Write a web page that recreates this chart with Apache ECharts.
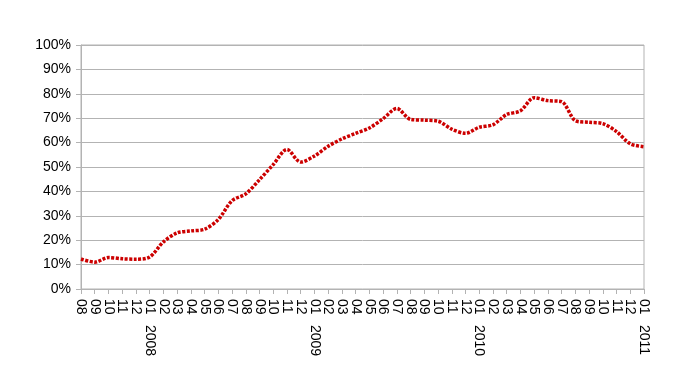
<!DOCTYPE html>
<html lang="en">
<head>
	<meta charset="UTF-8">
	<title>Monthly share</title>
	<script src="https://cdn.jsdelivr.net/npm/echarts@6/dist/echarts.min.js"></script>
	<style>
		html, body { margin: 0; padding: 0; background: #fff; }
	</style>
</head>
<body>
	<div id="main" style="width: 681px; height: 384px;"></div>
	<script>
		// month labels from 2007-08 to 2011-01
		const months = [
			'08', '09', '10', '11', '12',
			'01', '02', '03', '04', '05', '06', '07', '08', '09', '10', '11', '12',
			'01', '02', '03', '04', '05', '06', '07', '08', '09', '10', '11', '12',
			'01', '02', '03', '04', '05', '06', '07', '08', '09', '10', '11', '12',
			'01'
		]
		// shown under every '01'
		const years = ['2008', '2009', '2010', '2011']

		const values = [
			12.3, 11.0, 12.9, 12.4, 12.2,
			13.1, 19.3, 23.0, 23.8, 24.5, 28.5, 36.2, 39.0, 44.8, 51.0, 57.2, 52.0,
			54.5, 58.5, 61.5, 63.8, 66.0, 69.8, 74.0, 69.5, 69.2, 68.8, 65.5, 63.8,
			66.3, 67.3, 71.5, 73.0, 78.4, 77.2, 76.8, 69.0, 68.3, 67.8, 64.5, 59.5,
			58.3
		]

		// index -> year label
		const yearAt = {}
		let k = 0
		months.forEach(function (m, i) {
			if (m === '01') yearAt[i] = years[k++]
		})

		const gridColor = '#b3b3b3'
		const font = 'Liberation Sans, Arial, sans-serif'

		const myChart = echarts.init(document.getElementById('main'))
		const option = {
			animation: false,
			grid: {
				left: 81,
				right: 37,
				top: 45,
				height: 244,
				show: true,
				borderColor: gridColor,
				borderWidth: 1
			},
			xAxis: [
				{
					type: 'category',
					data: months,
					boundaryGap: false,
					axisLine: { lineStyle: { color: gridColor } },
					axisTick: { alignWithLabel: true, interval: 0, length: 5, lineStyle: { color: gridColor } },
					axisLabel: {
						interval: 0,
						rotate: -90,
						margin: 10,
						color: '#000',
						fontSize: 14,
						fontFamily: font
					},
					splitLine: { show: false }
				},
				{
					type: 'category',
					position: 'bottom',
					data: months,
					boundaryGap: false,
					axisLine: { show: false },
					axisTick: { show: false },
					axisLabel: {
						interval: 0,
						rotate: -90,
						margin: 36,
						color: '#000',
						fontSize: 14,
						fontFamily: font,
						formatter: function (v, i) {
							return yearAt[i] || ''
						}
					},
					splitLine: { show: false }
				}
			],
			yAxis: {
				type: 'value',
				min: 0,
				max: 100,
				interval: 10,
				axisLine: { show: true, lineStyle: { color: gridColor } },
				axisTick: { show: true, length: 5, lineStyle: { color: gridColor } },
				axisLabel: {
					formatter: '{value}%',
					margin: 10,
					color: '#000',
					fontSize: 14,
					fontFamily: font
				},
				splitLine: { lineStyle: { color: gridColor, width: 1 } }
			},
			series: [
				{
					type: 'line',
					data: values,
					showSymbol: false,
					smooth: 0.3,
					lineStyle: {
						color: '#cc0000',
						width: 3.5,
						type: [3, 1.5]
					}
				}
			]
		}
		myChart.setOption(option)
	</script>
</body>
</html>
